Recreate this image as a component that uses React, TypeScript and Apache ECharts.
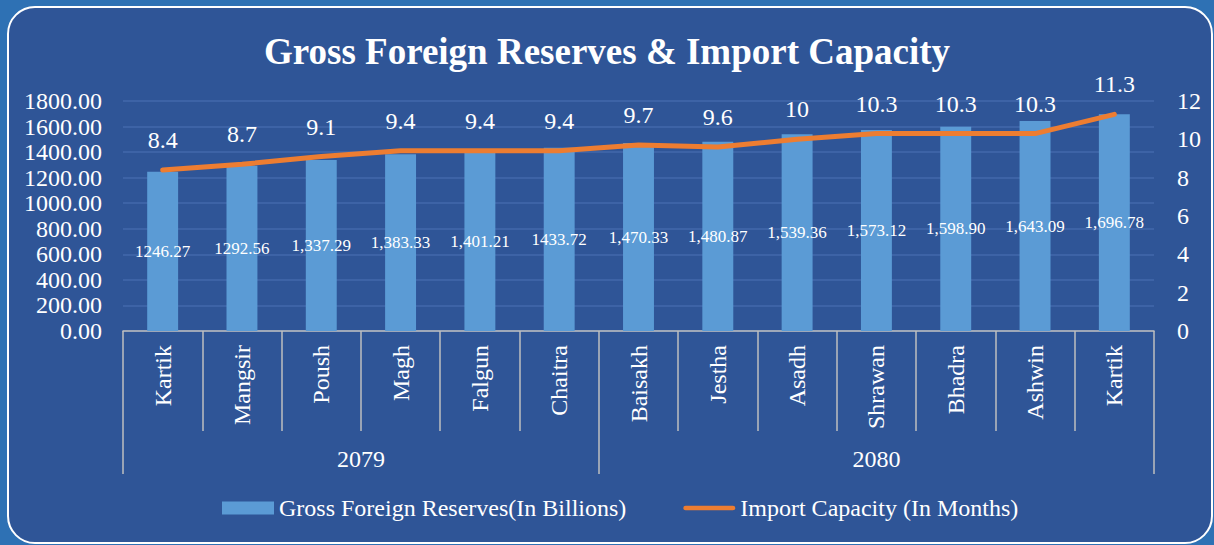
import React, { useEffect, useRef } from 'react';
import * as echarts from 'echarts';

const months = ['Kartik', 'Mangsir', 'Poush', 'Magh', 'Falgun', 'Chaitra', 'Baisakh', 'Jestha', 'Asadh', 'Shrawan', 'Bhadra', 'Ashwin', 'Kartik'];
const reserves = [1246.27, 1292.56, 1337.29, 1383.33, 1401.21, 1433.72, 1470.33, 1480.87, 1539.36, 1573.12, 1598.9, 1643.09, 1696.78];
const reserveLabels = ['1246.27', '1292.56', '1,337.29', '1,383.33', '1,401.21', '1433.72', '1,470.33', '1,480.87', '1,539.36', '1,573.12', '1,598.90', '1,643.09', '1,696.78'];
const importMonths = [8.4, 8.7, 9.1, 9.4, 9.4, 9.4, 9.7, 9.6, 10, 10.3, 10.3, 10.3, 11.3];
const years = ['2079', '2080'];
const yearCounts = [6, 7];

const FONT = '"Liberation Serif", "Times New Roman", serif';

export default function App() {
  const ref = useRef<HTMLDivElement>(null);
  useEffect(() => {
    if (!ref.current) return;
    const chart = echarts.init(ref.current, undefined, { renderer: 'svg' });
    // group boundaries and centers on the second-level axis
    const bounds: number[] = [0];
    const centers: number[] = [];
    yearCounts.forEach((c) => {
      const start = bounds[bounds.length - 1];
      centers.push(start + c / 2);
      bounds.push(start + c);
    });
    const total = bounds[bounds.length - 1];
    chart.setOption({
      animation: false,
      backgroundColor: 'transparent',
      textStyle: { fontFamily: FONT },
      title: {
        text: 'Gross Foreign Reserves & Import Capacity',
        left: 'center',
        top: 28,
        textStyle: { color: '#ffffff', fontSize: 37, fontWeight: 'bold', fontFamily: FONT },
      },
      legend: {
        bottom: 20,
        left: 217,
        itemWidth: 52,
        itemHeight: 13,
        itemGap: 57,
        textStyle: { color: '#ffffff', fontSize: 24, fontFamily: FONT },
        data: [
          { name: 'Gross Foreign Reserves(In Billions)', icon: 'rect' },
          {
            name: 'Import Capacity (In Months)',
            icon: 'path://M2.5,0 L52.5,0 A2.5,2.5 0 0 1 52.5,5 L2.5,5 A2.5,2.5 0 0 1 2.5,0 Z',
          },
        ],
      },
      grid: { left: 123, right: 60, top: 101, bottom: 214 },
      xAxis: [
        {
          type: 'category',
          data: months,
          position: 'bottom',
          axisLine: { show: true, lineStyle: { color: '#BFBFBF', width: 1.5 } },
          axisTick: { show: true, interval: 0, length: 100, lineStyle: { color: '#BFBFBF', width: 1.5 } },
          axisLabel: { interval: 0, rotate: 90, margin: 14, color: '#ffffff', fontSize: 24, fontFamily: FONT },
          splitLine: { show: false },
        },
        {
          // second level: year labels centred on each group
          type: 'value',
          position: 'bottom',
          offset: 100,
          min: 0,
          max: total,
          axisLine: { show: false },
          axisTick: { show: false },
          axisLabel: {
            customValues: centers,
            margin: 16,
            color: '#ffffff',
            fontSize: 24,
            fontFamily: FONT,
            formatter: (v: number) => {
              const i = centers.indexOf(v);
              return i >= 0 ? years[i] : '';
            },
          },
          splitLine: { show: false },
        },
        {
          // second level: separators between year groups
          type: 'category',
          data: months,
          position: 'bottom',
          offset: 100,
          axisLine: { show: false },
          axisTick: {
            show: true,
            interval: (i: number) => bounds.indexOf(i) >= 0 && i < total,
            length: 43,
            lineStyle: { color: '#BFBFBF', width: 1.5 },
          },
          axisLabel: { show: false },
          splitLine: { show: false },
        },
      ],
      yAxis: [
        {
          type: 'value',
          min: 0,
          max: 1800,
          interval: 200,
          axisLine: { show: false },
          axisTick: { show: false },
          axisLabel: {
            margin: 21,
            color: '#ffffff',
            fontSize: 24,
            fontFamily: FONT,
            formatter: (v: number) => v.toFixed(2),
          },
          splitLine: { show: true, lineStyle: { color: '#4369AB', width: 1.5 } },
        },
        {
          type: 'value',
          min: 0,
          max: 12,
          interval: 2,
          position: 'right',
          axisLine: { show: false },
          axisTick: { show: false },
          axisLabel: { margin: 23, color: '#ffffff', fontSize: 24, fontFamily: FONT },
          splitLine: { show: false },
        },
      ],
      series: [
        {
          name: 'Gross Foreign Reserves(In Billions)',
          type: 'bar',
          xAxisIndex: 0,
          yAxisIndex: 0,
          data: reserves,
          barWidth: '39%',
          itemStyle: { color: '#5B9BD5' },
          label: {
            show: true,
            position: 'inside',
            color: '#ffffff',
            fontSize: 17,
            fontFamily: FONT,
            formatter: (p: any) => reserveLabels[p.dataIndex],
          },
        },
        {
          name: 'Import Capacity (In Months)',
          type: 'line',
          xAxisIndex: 0,
          yAxisIndex: 1,
          data: importMonths,
          symbol: 'circle',
          symbolSize: 0.1,
          showSymbol: true,
          lineStyle: { color: '#ED7D31', width: 5, cap: 'round' },
          itemStyle: { color: '#ED7D31' },
          label: {
            show: true,
            position: 'top',
            distance: 18,
            color: '#ffffff',
            fontSize: 24,
            fontFamily: FONT,
          },
        },
      ],
    });
    return () => chart.dispose();
  }, []);

  return (
    <div style={{ position: 'fixed', left: 0, top: 0, width: 1214, height: 545, background: '#2E71B4', overflow: 'hidden' }}>
      <div
        style={{
          position: 'absolute',
          left: 7,
          top: 6,
          width: 1206,
          height: 538,
          boxSizing: 'border-box',
          border: '2px solid #ffffff',
          borderRadius: 28,
          background: '#2F5597',
        }}
      />
      <div ref={ref} style={{ position: 'absolute', left: 0, top: 0, width: 1214, height: 545 }} />
    </div>
  );
}
